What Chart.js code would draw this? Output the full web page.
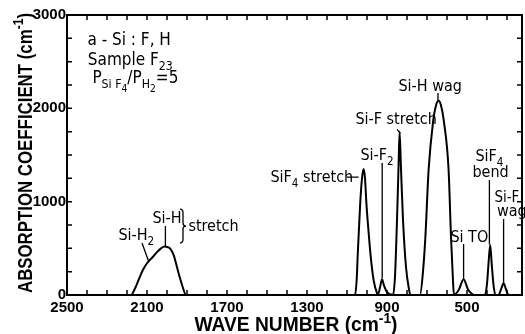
<!DOCTYPE html>
<html>
<head>
<meta charset="utf-8">
<script src="https://cdn.jsdelivr.net/npm/chart.js@4"></script>
<style>
  html, body { margin: 0; padding: 0; background: #fff; }
  #wrap { width: 525px; height: 334px; }
</style>
</head>
<body>
<div id="wrap"><canvas id="chart" width="525" height="334"></canvas></div>
<script>
// spectrum (wave number in cm-1, absorption coefficient in cm-1)
const waveNumbers = [
  2500, 2180, 2160, 2142, 2120, 2100, 2092, 2070, 2050, 2030, 2012, 1995, 1983, 1967, 1955, 1942, 1925, 1905,
  1060, 1052, 1046, 1034, 1025, 1017, 1010, 1003, 993, 983, 967, 950, 945,
  935, 925, 915, 900, 880, 870,
  860, 850, 842, 837, 830, 820, 805, 790, 783,
  735, 720, 708, 692, 670, 655, 642, 630, 615, 592, 580, 570, 565,
  540, 517, 495, 470, 458,
  410, 400, 392, 384, 377, 368, 358,
  342, 330, 317, 305, 292, 225,
];
const absorption = [
  0, 0, 70, 161, 270, 340, 360, 410, 460, 500, 520, 512, 495, 430, 340, 232, 110, 0,
  0, 150, 447, 982, 1250, 1350, 1250, 982, 700, 447, 161, 20, 5,
  80, 170, 100, 30, 5, 0,
  200, 803, 1400, 1750, 1350, 803, 300, 60, 0,
  0, 250, 625, 1339, 1850, 2030, 2080, 2030, 1850, 1339, 625, 150, 0,
  60, 170, 60, 5, 0,
  0, 120, 350, 536, 350, 120, 0,
  0, 60, 125, 60, 0, 0,
];

const xTickValues = [2500, 2100, 1700, 1300, 900, 500];
const yTickValues = [0, 1000, 2000, 3000];
const xMinorStep = 100;
const yMinorStep = 250;

const X_TITLE = ["WAVE NUMBER (cm", { t: "-1", sup: true }, ")"];
const Y_TITLE = ["ABSORPTION COEFFICIENT (cm", { t: "-1", sup: true }, ")"];

// peak labels, anchored in data units [wave number, absorption]
const peakLabels = [
  { parts: ["a - Si : F, H"], at: [2398, 2679], size: 17 },
  { parts: ["Sample F", { t: "23", sub: 1 }], at: [2396, 2464], size: 17 },
  { parts: ["P", { t: "Si F", sub: 1 }, { t: "4", sub: 2 }, "/", "P", { t: "H", sub: 1 }, { t: "2", sub: 2 }, "=5"], at: [2373, 2271], size: 17 },
  { parts: ["Si-H", { t: "2", sub: 1 }], at: [2243, 589] },
  { parts: ["Si-H"], at: [2073, 771] },
  { parts: ["stretch"], at: [1893, 686] },
  { parts: ["SiF", { t: "4", sub: 1 }, " stretch"], at: [1483, 1211] },
  { parts: ["Si-F", { t: "2", sub: 1 }], at: [1033, 1446] },
  { parts: ["Si-F stretch"], at: [1058, 1832] },
  { parts: ["Si-H wag"], at: [843, 2186] },
  { parts: ["SiF", { t: "4", sub: 1 }], at: [458, 1436] },
  { parts: ["bend"], at: [473, 1264] },
  { parts: ["Si TO"], at: [583, 568] },
  { parts: ["Si-F"], at: [363, 996], size: 15 },
  { parts: ["wag"], at: [350, 846] },
];

// leader lines [wave1, abs1, wave2, abs2]
const leaders = [
  [2125, 557, 2092, 362],
  [2008, 739, 2008, 525],
  [1102, 1264, 1042, 1264],
  [924, 1414, 924, 180],
  [850, 1775, 833, 1732],
  [645, 2164, 645, 2085],
  [388, 1232, 388, 540],
  [517, 546, 517, 175],
  [317, 814, 317, 130],
];
const brace = { at: 1925, top: 921, bottom: 557 };

const FONT = '"Liberation Sans", Arial, sans-serif';
const LABEL_FONT = '"DejaVu Sans Condensed", "Liberation Sans", sans-serif';

function partStyle(p, size) {
  const s = typeof p === "string" ? { t: p } : p;
  const fs = s.sub === 2 ? size * 0.6 : s.sub || s.sup ? size * 0.72 : size;
  const dy = s.sub === 2 ? size * 0.5 : s.sub ? size * 0.3 : s.sup ? -size * 0.42 : 0;
  return { t: s.t, fs, dy };
}

function richWidth(ctx, parts, size, weight, family) {
  let w = 0;
  for (const p of parts) {
    const s = partStyle(p, size);
    ctx.font = `${weight} ${s.fs}px ${family}`;
    w += ctx.measureText(s.t).width;
  }
  return w;
}

function drawRich(ctx, x, y, parts, size, weight, family) {
  let cx = x;
  for (const p of parts) {
    const s = partStyle(p, size);
    ctx.font = `${weight} ${s.fs}px ${family}`;
    ctx.fillText(s.t, cx, y + s.dy);
    cx += ctx.measureText(s.t).width;
  }
}

// centred on the current origin, squeezed or spaced out to the wanted length
function drawFittedTitle(ctx, parts, size, target) {
  const chars = parts.reduce((n, p) => n + (typeof p === "string" ? p : p.t).length, 0);
  const w0 = richWidth(ctx, parts, size, "bold", FONT);
  if (w0 > target) {
    ctx.scale(target / w0, 1);
    drawRich(ctx, -w0 / 2, 0, parts, size, "bold", FONT);
  } else {
    ctx.letterSpacing = (target - w0) / chars + "px";
    const w = richWidth(ctx, parts, size, "bold", FONT);
    drawRich(ctx, -w / 2, 0, parts, size, "bold", FONT);
  }
}

const FIGURE_PLUGIN = {
  id: "figure",
  afterDraw: (chart) => {
    const { ctx, chartArea: a, scales } = chart;
    const x = scales.x;
    const y = scales.y;
    ctx.save();
    ctx.strokeStyle = "#000";
    ctx.fillStyle = "#000";

    // frame
    ctx.lineWidth = 2;
    ctx.strokeRect(a.left, a.top, a.right - a.left, a.bottom - a.top);

    // inward ticks on all four sides
    ctx.lineWidth = 1.5;
    ctx.beginPath();
    for (let v = xTickValues[0]; v >= x.min; v -= xMinorStep) {
      const px = x.getPixelForValue(v);
      ctx.moveTo(px, a.bottom);
      ctx.lineTo(px, a.bottom - 5);
      ctx.moveTo(px, a.top);
      ctx.lineTo(px, a.top + 5);
    }
    for (let v = 0; v <= y.max; v += yMinorStep) {
      const py = y.getPixelForValue(v);
      ctx.moveTo(a.left, py);
      ctx.lineTo(a.left + 5, py);
      ctx.moveTo(a.right, py);
      ctx.lineTo(a.right - 5, py);
    }
    ctx.stroke();

    // leader lines
    ctx.lineWidth = 1.3;
    ctx.beginPath();
    for (const [v1, a1, v2, a2] of leaders) {
      ctx.moveTo(x.getPixelForValue(v1), y.getPixelForValue(a1));
      ctx.lineTo(x.getPixelForValue(v2), y.getPixelForValue(a2));
    }
    ctx.stroke();

    // brace for the stretch pair
    const bx = x.getPixelForValue(brace.at);
    const by1 = y.getPixelForValue(brace.top);
    const by2 = y.getPixelForValue(brace.bottom);
    const bm = (by1 + by2) / 2;
    ctx.beginPath();
    ctx.moveTo(bx - 2, by1);
    ctx.quadraticCurveTo(bx + 1, by1, bx + 1, by1 + 4);
    ctx.lineTo(bx + 1, bm - 3);
    ctx.quadraticCurveTo(bx + 1, bm, bx + 4, bm);
    ctx.quadraticCurveTo(bx + 1, bm, bx + 1, bm + 3);
    ctx.lineTo(bx + 1, by2 - 4);
    ctx.quadraticCurveTo(bx + 1, by2, bx - 2, by2);
    ctx.stroke();

    // labels
    ctx.textBaseline = "alphabetic";
    ctx.textAlign = "left";
    for (const l of peakLabels) {
      drawRich(ctx, x.getPixelForValue(l.at[0]), y.getPixelForValue(l.at[1]), l.parts, l.size || 16, "normal", LABEL_FONT);
    }

    // axis titles
    ctx.save();
    ctx.translate(296, 331);
    drawFittedTitle(ctx, X_TITLE, 20, 203);
    ctx.restore();

    ctx.save();
    ctx.translate(32, 153);
    ctx.rotate(-Math.PI / 2);
    drawFittedTitle(ctx, Y_TITLE, 21, 280);
    ctx.restore();

    ctx.restore();
  },
};

const tickFont = { family: FONT, size: 15, weight: "bold" };

new Chart(document.getElementById("chart"), {
  type: "line",
  data: {
    datasets: [
      {
        data: waveNumbers.map((w, i) => ({ x: w, y: absorption[i] })),
        borderColor: "#000",
        borderWidth: 2,
        pointRadius: 0,
        fill: false,
        cubicInterpolationMode: "monotone",
      },
    ],
  },
  options: {
    responsive: false,
    animation: false,
    layout: { padding: { left: 0, right: 3, top: 15, bottom: 0 } },
    plugins: { legend: { display: false }, tooltip: { enabled: false } },
    scales: {
      x: {
        type: "linear",
        reverse: true,
        min: 225,
        max: 2500,
        grid: { display: false, drawTicks: false },
        border: { display: false },
        afterBuildTicks: (s) => { s.ticks = xTickValues.map((v) => ({ value: v })); },
        afterFit: (s) => { s.height = 39; },
        ticks: { padding: 4, font: tickFont, color: "#000", maxRotation: 0, autoSkip: false, callback: (v) => String(v) },
      },
      y: {
        min: 0,
        max: 3000,
        grid: { display: false, drawTicks: false },
        border: { display: false },
        afterBuildTicks: (s) => { s.ticks = yTickValues.map((v) => ({ value: v })); },
        afterFit: (s) => { s.width = 67; },
        ticks: { padding: 1, font: tickFont, color: "#000", callback: (v) => String(v) },
      },
    },
  },
  plugins: [FIGURE_PLUGIN],
});
</script>
</body>
</html>
